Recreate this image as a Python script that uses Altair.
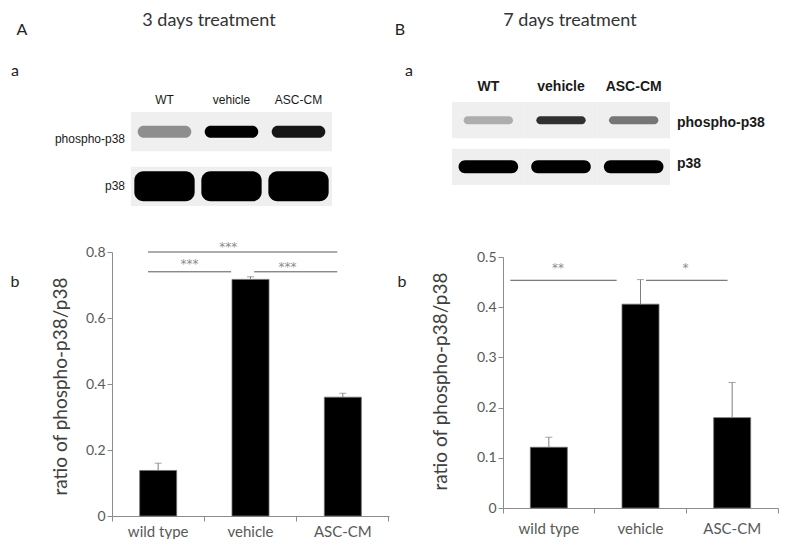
import altair as alt
import pandas as pd

# ---------------- data ----------------
categories = ["wild type", "vehicle", "ASC-CM"]
ratio_3d = [0.138, 0.717, 0.360]
err_3d = [0.022, 0.008, 0.012]
ratio_7d = [0.121, 0.406, 0.180]
err_7d = [0.020, 0.049, 0.070]

lanes = ["WT", "vehicle", "ASC-CM"]
rows = ["phospho-p38", "p38"]
blot_3d_phospho = [0.35, 1.0, 0.92]
blot_3d_p38 = [1.0, 1.0, 1.0]
blot_7d_phospho = [0.22, 0.78, 0.45]
blot_7d_p38 = [1.0, 1.0, 1.0]

sig_3d_from = [0.39, 0.39, 1.54]
sig_3d_to = [2.44, 1.29, 2.44]
sig_3d_level = [0.80, 0.74, 0.74]
sig_3d_label = ["***", "***", "***"]
sig_3d_label_x = [1.26, 0.84, 1.90]
sig_3d_label_y = [0.814, 0.764, 0.756]

sig_7d_from = [0.08, 1.56]
sig_7d_to = [1.24, 2.45]
sig_7d_level = [0.4536, 0.4536]
sig_7d_label = ["**", "*"]
sig_7d_label_x = [0.60, 1.99]
sig_7d_label_y = [0.478, 0.478]

# ---------------- layout helpers ----------------
OFF = 8  # page margin


def px(v):
    return v - OFF


W, H = 771, 531
GRAY_AX = "#8c8c8c"
LABEL_C = "#595959"
FONT = "Lato"


def note(text, x, y, size, color="#222222", font=FONT, weight="normal", align="center"):
    return alt.Chart(pd.DataFrame({"t": [text]})).mark_text(
        font=font, fontSize=size, color=color, fill=color, fontWeight=weight, align=align,
        baseline="alphabetic"
    ).encode(x=alt.value(px(x)), y=alt.value(px(y)), text="t:N")


def bar_panel(ratio, err, x0, x1, y0, y1, ymax, yvals, title_dx, title_cy, lab_pad,
              s_from, s_to, s_lev, s_lab, s_lx, s_ly):
    df = pd.DataFrame({"cat": categories, "ratio": ratio, "err": err})
    xs = alt.Scale(domain=categories, range=[px(x0), px(x1)], paddingInner=0, paddingOuter=0)
    xq = alt.Scale(domain=[0, 3], range=[px(x0), px(x1)], nice=False, zero=False)
    ys = alt.Scale(domain=[0, ymax], range=[px(y0), px(y1)], nice=False)
    ax_y = alt.Axis(
        orient="left", offset=-px(x0), values=yvals, format="~g", grid=False,
        domainColor=GRAY_AX, tickColor=GRAY_AX, tickSize=5, labelPadding=2,
        labelFont=FONT, labelFontSize=14, labelColor=LABEL_C,
        title="ratio of phospho-p38/p38", titleFont=FONT, titleFontSize=19,
        titleFontWeight="normal", titleColor="#404040",
        titleX=title_dx, titleY=px(title_cy), titleBaseline="middle", titleAngle=-90,
    )
    ax_x = alt.Axis(
        orient="bottom", offset=px(y0) - H, bandPosition=1, tickExtra=True,
        domainColor=GRAY_AX, tickColor=GRAY_AX, tickSize=5, labelPadding=lab_pad,
        labelFont=FONT, labelFontSize=15, labelColor=LABEL_C, labelAngle=0, title=None,
    )
    bars = alt.Chart(df).mark_bar(size=37, color="black", stroke="#6e6e6e", strokeWidth=0.8).encode(
        x=alt.X("cat:N", scale=xs, axis=ax_x, sort=categories),
        y=alt.Y("ratio:Q", scale=ys, axis=ax_y),
    )
    stems = alt.Chart(df).transform_calculate(upper="datum.ratio + datum.err").mark_rule(
        color="#7f7f7f", strokeWidth=1
    ).encode(
        x=alt.X("cat:N", scale=xs, axis=None, sort=categories),
        y=alt.Y("ratio:Q", scale=ys, axis=None),
        y2="upper:Q",
    )
    caps = alt.Chart(df).transform_calculate(upper="datum.ratio + datum.err").mark_tick(
        color="#7f7f7f", thickness=1, size=7, orient="horizontal"
    ).encode(
        x=alt.X("cat:N", scale=xs, axis=None, sort=categories),
        y=alt.Y("upper:Q", scale=ys, axis=None),
    )
    sig = pd.DataFrame({"a": s_from, "b": s_to, "lev": s_lev, "lab": s_lab, "lx": s_lx, "ly": s_ly})
    sig_lines = alt.Chart(sig).mark_rule(color="#595959", strokeWidth=1).encode(
        x=alt.X("a:Q", scale=xq, axis=None), x2="b:Q",
        y=alt.Y("lev:Q", scale=ys, axis=None),
    )
    sig_text = alt.Chart(sig).mark_text(
        font="DejaVu Sans", fontSize=12, color="#8c8c8c", baseline="middle"
    ).encode(
        x=alt.X("lx:Q", scale=xq, axis=None),
        y=alt.Y("ly:Q", scale=ys, axis=None),
        text="lab:N",
    )
    return [bars, stems, caps, sig_lines, sig_text]


def blot_panel(phospho, p38, x0, x1, y0, y1, pad, ph_h, ph_w, p_h, p_w,
               lane_y, font, size, weight, row_x, row_align, row_dy):
    df = pd.DataFrame({
        "lane": lanes * 2,
        "row": [rows[0]] * 3 + [rows[1]] * 3,
        "intensity": list(phospho) + list(p38),
    })
    ls = alt.Scale(domain=lanes, range=[px(x0), px(x1)], paddingInner=0, paddingOuter=0)
    rs = alt.Scale(domain=rows, range=[px(y0), px(y1)], paddingInner=pad, paddingOuter=0)
    shade = alt.Scale(domain=[0, 1], range=["#e4e4e4", "#000000"])
    enc = dict(
        x=alt.X("lane:N", scale=ls, axis=None, sort=lanes),
        y=alt.Y("row:N", scale=rs, axis=None, sort=rows),
    )
    bg = alt.Chart(df).mark_rect(color="#efefef").encode(**enc)
    ph = alt.Chart(df).transform_filter(alt.datum.row == rows[0]).mark_rect(
        width=alt.RelativeBandSize(ph_w), height=ph_h, cornerRadius=ph_h / 2
    ).encode(color=alt.Color("intensity:Q", scale=shade, legend=None), **enc)
    pp = alt.Chart(df).transform_filter(alt.datum.row == rows[1]).mark_rect(
        width=alt.RelativeBandSize(p_w), height=p_h, cornerRadius=min(p_h / 2, 9)
    ).encode(color=alt.Color("intensity:Q", scale=shade, legend=None), **enc)
    lane_lab = alt.Chart(pd.DataFrame({"lane": lanes})).mark_text(
        font=font, fontSize=size, fontWeight=weight, color="#1a1a1a", fill="#1a1a1a", baseline="middle"
    ).encode(x=alt.X("lane:N", scale=ls, axis=None, sort=lanes), y=alt.value(px(lane_y)), text="lane:N")
    row_lab = alt.Chart(pd.DataFrame({"row": rows})).mark_text(
        font=font, fontSize=size, fontWeight=weight, color="#1a1a1a", fill="#1a1a1a", baseline="middle",
        align=row_align, dy=row_dy
    ).encode(x=alt.value(px(row_x)), y=alt.Y("row:N", scale=rs, axis=None, sort=rows), text="row:N")
    return [bg, ph, pp, lane_lab, row_lab]


layers = []
layers += bar_panel(ratio_3d, err_3d, 112, 389, 516, 252, 0.8, [0, 0.2, 0.4, 0.6, 0.8], -52, 386, 3,
                    sig_3d_from, sig_3d_to, sig_3d_level, sig_3d_label, sig_3d_label_x, sig_3d_label_y)
layers += bar_panel(ratio_7d, err_7d, 503, 778, 508, 257, 0.5, [0, 0.1, 0.2, 0.3, 0.4, 0.5], -63, 381, 8,
                    sig_7d_from, sig_7d_to, sig_7d_level, sig_7d_label, sig_7d_label_x, sig_7d_label_y)
layers += blot_panel(blot_3d_phospho, blot_3d_p38, 131, 332, 112, 206, 0.28, 12, 0.8, 30, 0.9,
                     100, "Liberation Sans", 12, "normal", 125, "right", 3)
layers += blot_panel(blot_7d_phospho, blot_7d_p38, 452, 670, 102, 185, 0.22, 8, 0.68, 13, 0.82,
                     87, "Liberation Sans", 14, "bold", 677, "left", 0)

layers += [
    note("3 days treatment", 209, 26, 18, color="#333333"),
    note("7 days treatment", 570, 26, 18, color="#333333"),
    note("A", 22, 35, 16),
    note("B", 400, 35, 16),
    note("a", 15, 76, 16),
    note("a", 409, 76, 16),
    note("b", 15, 287, 16),
    note("b", 402, 287, 16),
]

chart = alt.layer(*layers).resolve_scale(
    x="independent", y="independent", color="independent"
).resolve_axis(x="independent", y="independent").properties(
    width=W, height=H, autosize=alt.AutoSizeParams(type="none"), padding=0,
    background="white",
).configure_view(stroke=None)

chart.save("out.html", embed_options={"renderer": "svg", "actions": False})
